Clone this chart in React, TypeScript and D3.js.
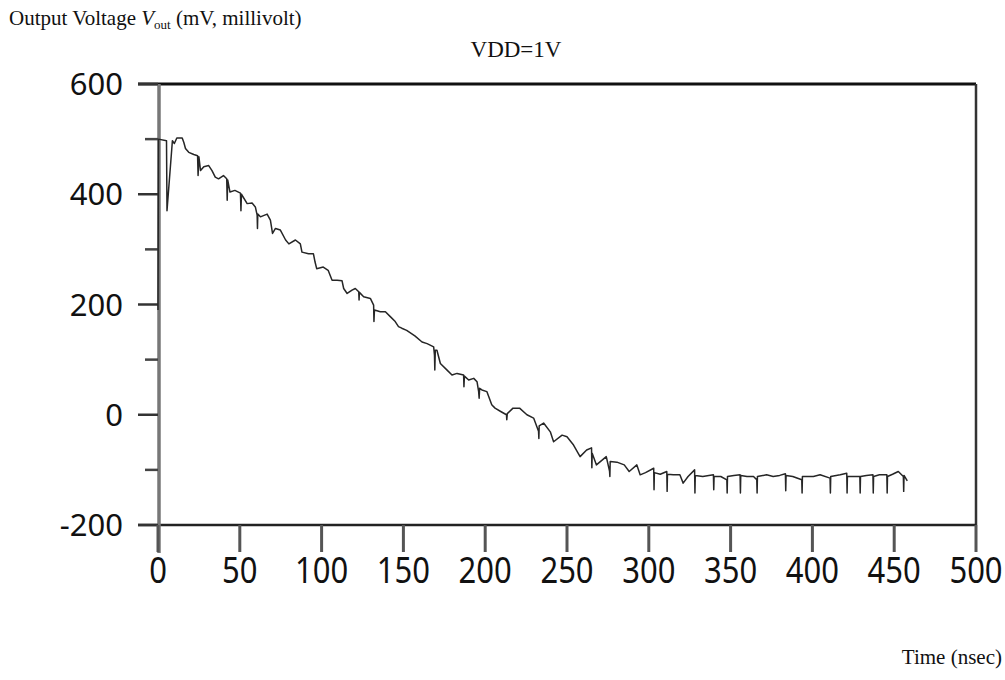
import React from "react";
import * as d3 from "d3";

const timeNs = [
  0, 0.3, 5.2, 5.5, 8.8, 10, 11.5, 14.8, 15.8, 16.8, 18.8, 21.9, 24.2, 24.5, 25, 26, 28, 31, 33, 35, 37, 40, 42, 42.3, 42.6,
  44, 47, 50.4, 50.7, 51, 54.5, 57.5, 59.5, 60.6, 60.8, 61, 62.6, 66.7, 68.7, 70, 71.8, 74.8, 78, 80, 84, 87, 88, 92, 95,
  96, 97, 101, 104, 106.4, 109.5, 112.5, 113.5, 115.6, 118.6, 120.6, 122.7, 122.9, 123.1, 125.7, 129.8, 131.8, 132, 132.3,
  135.9, 139, 142, 145, 147, 149, 152, 157, 161.4, 164.5, 168.5, 169, 169.2, 169.5, 170.5, 172.6, 176.7, 179.7, 182.8,
  186.8, 187, 187.3, 189.9, 193, 195, 196, 196.3, 196.6, 198, 201, 204, 206, 210, 213, 213.2, 213.5, 217, 221, 225.5,
  229.6, 232.6, 232.8, 233, 235.7, 239.8, 241.8, 247, 250, 254, 258, 262, 265, 265.2, 265.4, 268, 274, 276, 276.2, 276.4,
  280.5, 285, 288, 292.7, 294.7, 298, 303, 303.2, 303.4, 307, 311, 311.2, 311.4, 315, 319, 321, 324, 328, 328.2, 328.4,
  333, 339.5, 339.7, 339.9, 344, 347.7, 347.9, 348.1, 352, 355.8, 356, 356.2, 360, 364, 366, 366.2, 366.4, 372, 376, 380,
  383.5, 383.7, 383.9, 388, 393.5, 393.7, 393.9, 400.6, 404.7, 410.8, 411, 411.2, 417, 421, 421.2, 421.4, 425, 429, 429.2,
  429.4, 433, 437, 437.2, 437.4, 441, 445.5, 445.7, 445.9, 449, 452.5, 455.6, 455.8, 456, 458,
];

const voltageMv = [
  190, 500, 497, 370, 497, 492, 502, 502, 494, 483, 476, 472, 470, 434, 468, 443, 450, 452, 443, 431, 428, 434, 428, 389, 426,
  404, 407, 402, 370, 400, 383, 384, 377, 362, 338, 364, 359, 364, 353, 329, 338, 335, 317, 310, 317, 310, 295, 292, 292,
  277, 265, 268, 262, 244, 244, 243, 229, 220, 226, 229, 223, 208, 222, 214, 211, 199, 169, 190,
  187, 187, 178, 169, 160, 157, 153, 143, 132, 129, 123, 108, 81, 117, 117, 93, 81, 72, 75,
  72, 51, 70, 63, 66, 60, 42, 30, 48, 45, 42, 18, 12, 5, 0, -9, 2, 12, 12, 0,
  -6, -30, -43, -20, -15, -31, -49, -37, -40, -55, -76, -64, -60, -96, -70, -91, -76, -102, -112, -85,
  -86, -91, -103, -91, -109, -105, -97, -136, -105, -108, -103, -139, -108, -109, -109, -124, -112, -100, -142, -110,
  -112, -109, -136, -112, -112, -118, -142, -112, -110, -109, -142, -110, -112, -112, -118, -142, -112, -109, -112, -110,
  -107, -138, -110, -112, -118, -142, -112, -112, -109, -115, -142, -112, -109, -106, -142, -112, -112, -112, -142,
  -112, -110, -109, -142, -112, -109, -109, -142, -112, -108, -103, -112, -139, -110, -120,
];

const xTicks = [0, 50, 100, 150, 200, 250, 300, 350, 400, 450, 500];
const yTicks = [-200, 0, 200, 400, 600];
const yMinorTicks = [-100, 100, 300, 500];

const W = 1005;
const H = 680;

export default function App() {
  const x = d3.scaleLinear().domain([0, 500]).range([158, 976]);
  const y = d3.scaleLinear().domain([-200, 600]).range([525, 84]);
  const pts: [number, number][] = timeNs.map((t, i) => [t, voltageMv[i]]);
  const line = d3
    .line<[number, number]>()
    .x((d) => x(d[0]))
    .y((d) => y(d[1]))
    .curve(d3.curveLinear);

  const serif = "'Liberation Serif', 'Times New Roman', serif";
  const sans = "'Noto Sans', 'Open Sans', sans-serif";

  return (
    <svg
      width={W}
      height={H}
      viewBox={`0 0 ${W} ${H}`}
      style={{ position: "absolute", left: 0, top: 0, background: "#fff" }}
    >
      <rect x={0} y={0} width={W} height={H} fill="#fff" />
      {/* title */}
      <text x={9} y={25} fontFamily={serif} fontSize={21} fill="#111">
        Output Voltage{" "}
        <tspan fontStyle="italic">V</tspan>
        <tspan fontSize={13} dy={4}>out</tspan>
        <tspan dy={-4}> (mV, millivolt)</tspan>
      </text>
      <text x={516} y={57} textAnchor="middle" fontFamily={serif} fontSize={23} fill="#111">
        VDD=1V
      </text>
      <text x={1002} y={664} textAnchor="end" fontFamily={serif} fontSize={21} fill="#111">
        Time (nsec)
      </text>

      {/* frame */}
      <line x1={138} x2={x(500)} y1={y(600)} y2={y(600)} stroke="#111" strokeWidth={3} />
      <line x1={x(500)} x2={x(500)} y1={y(600)} y2={y(-200)} stroke="#333" strokeWidth={2.5} />
      <line x1={138} x2={x(500)} y1={y(-200)} y2={y(-200)} stroke="#222" strokeWidth={2.5} />
      <line x1={x(0) + 1} x2={x(0) + 1} y1={y(600)} y2={y(-200) + 28} stroke="#777" strokeWidth={3.5} />

      {/* y ticks */}
      {yTicks.map((v) => (
        <g key={"yt" + v}>
          <line x1={138} x2={x(0)} y1={y(v)} y2={y(v)} stroke="#333" strokeWidth={2.5} />
          <text
            x={123}
            y={y(v)}
            dy="0.36em"
            textAnchor="end"
            fontFamily={sans}
            fontSize={31}
            fill="#111"
          >
            {v}
          </text>
        </g>
      ))}
      {yMinorTicks.map((v) => (
        <line key={"ym" + v} x1={145} x2={x(0)} y1={y(v)} y2={y(v)} stroke="#444" strokeWidth={2.5} />
      ))}

      {/* x ticks */}
      {xTicks.map((t) => (
        <g key={"xt" + t}>
          <line x1={x(t)} x2={x(t)} y1={y(-200)} y2={y(-200) + 27} stroke="#555" strokeWidth={3} />
          <text
            transform={`translate(${x(t)},583) scale(1,1.15)`}
            textAnchor="middle"
            fontFamily={sans}
            fontSize={31}
            fill="#111"
          >
            {t}
          </text>
        </g>
      ))}

      {/* data */}
      <path d={line(pts) || ""} fill="none" stroke="#262626" strokeWidth={1.5} strokeLinejoin="round" />
    </svg>
  );
}
